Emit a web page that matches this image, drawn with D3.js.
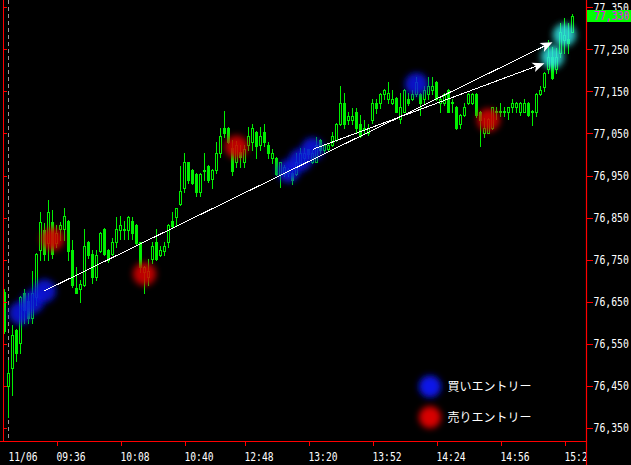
<!DOCTYPE html>
<html><head><meta charset="utf-8">
<script src="https://cdn.jsdelivr.net/npm/d3@7"></script>
<style>html,body{margin:0;padding:0;background:#000;}svg{display:block;}</style>
</head><body>
<script>
// ---- data ----
const opens = [76674,76450,76492,76583,76551,76672,76652,76611,76661,76773,76821,76790,76840,76790,76822,76822,76842,76773,76683,76680,76690,76793,76763,76710,76771,76823,76773,76763,76791,76821,76821,76821,76842,76832,76791,76721,76710,76751,76791,76761,76771,76791,76842,76852,76882,76921,76981,76963,76953,76912,76963,76973,76941,76963,77003,77062,77062,77016,76983,77007,76981,77022,77030,77053,77022,77053,77022,76992,76991,76953,76953,76955,76955,76954,76980,76991,77012,76983,76983,77034,77011,77012,77022,77034,77072,77122,77082,77082,77102,77072,77062,77052,77082,77122,77122,77143,77132,77122,77135,77084,77102,77133,77133,77143,77143,77133,77143,77153,77173,77122,77122,77153,77124,77113,77072,77094,77122,77122,77143,77102,77052,77052,77062,77104,77102,77102,77102,77112,77112,77102,77102,77122,77104,77102,77143,77161,77202,77232,77202,77242,77272,77274,77292];
const highs = [76680,76512,76595,76585,76663,76680,76672,76723,76765,76863,76836,76892,76868,76832,76840,76872,76845,76797,76732,76702,76822,76795,76773,76773,76815,76825,76775,76802,76852,76854,76843,76854,76852,76834,76793,76735,76752,76793,76823,76782,76793,76834,76863,76874,76973,77004,76983,76965,76955,76955,77003,76975,76965,77030,77062,77103,77065,77034,77032,77022,77022,77066,77072,77055,77066,77072,77030,77012,76993,76983,76975,76968,76960,77003,77015,77015,77014,77011,77042,77036,77026,77024,77054,77074,77163,77145,77102,77111,77111,77094,77082,77072,77133,77133,77145,77155,77173,77153,77137,77145,77155,77145,77153,77183,77145,77163,77185,77185,77175,77135,77145,77155,77133,77115,77096,77123,77145,77145,77145,77104,77086,77086,77114,77112,77123,77113,77114,77133,77124,77124,77133,77124,77106,77145,77163,77195,77272,77256,77252,77313,77324,77313,77335];
const lows = [76575,76377,76428,76510,76529,76599,76600,76599,76642,76749,76749,76749,76754,76781,76797,76797,76749,76686,76672,76650,76688,76754,76695,76702,76769,76760,76745,76760,76781,76799,76799,76799,76799,76786,76721,76672,76690,76741,76749,76759,76761,76781,76828,76831,76880,76912,76932,76930,76901,76901,76939,76935,76921,76955,76995,77042,77028,76951,76971,76971,76971,77011,77011,76991,77011,77021,76991,76980,76951,76922,76950,76950,76930,76951,76975,76983,76991,76980,76981,77003,77005,77008,77020,77032,77070,77062,77072,77072,77054,77042,77052,77046,77074,77099,77111,77133,77122,77120,77100,77074,77100,77118,77130,77140,77094,77122,77133,77143,77130,77102,77118,77100,77102,77060,77062,77092,77120,77120,77090,77021,77042,77050,77060,77084,77091,77091,77084,77102,77102,77094,77100,77092,77070,77091,77141,77152,77193,77180,77193,77232,77240,77242,77290];
const closes = [76581,76481,76571,76529,76661,76630,76611,76672,76763,76840,76763,76863,76763,76813,76832,76854,76771,76690,76672,76692,76782,76761,76710,76761,76813,76763,76749,76791,76823,76832,76823,76852,76813,76789,76733,76733,76723,76782,76751,76773,76782,76832,76831,76872,76913,76981,76939,76932,76912,76953,76961,76939,76963,77003,77044,77050,77030,76961,77022,76995,77012,77044,77062,77021,77044,77030,77003,77003,76953,76981,76971,76963,76939,76983,77003,77003,77001,77003,77022,77011,77022,77022,77044,77072,77122,77072,77092,77091,77062,77044,77060,77062,77122,77111,77143,77153,77145,77133,77102,77113,77153,77122,77143,77173,77122,77153,77163,77163,77133,77133,77143,77102,77122,77062,77094,77113,77143,77143,77094,77082,77062,77084,77112,77102,77104,77104,77112,77122,77122,77122,77122,77094,77102,77143,77153,77193,77232,77182,77232,77292,77284,77264,77330];

const timeTickIdx = [1, 13, 29, 45, 60, 76, 92, 108, 124, 140];
const timeTickLabels = ["11/06","09:36","10:08","10:40","12:48","13:20","13:52","14:24","14:56","15:28"];
const dayBreakIdx = [1];
const priceTicks = [76350,76450,76550,76650,76750,76850,76950,77050,77150,77250,77350];
const lastPrice = 77330;

const buyIdx   = [4, 7, 10, 71, 74, 77, 103];
const buyPrice = [76623, 76650, 76676, 76961, 76987, 77013, 77167];
const sellIdx   = [12, 35, 58, 121];
const sellPrice = [76799, 76716, 77018, 77082];
const exitIdx   = [137, 140];
const exitPrice = [77232, 77284];
const tradeFromIdx   = [10, 77];
const tradeFromPrice = [76676, 77012];
const tradeToIdx     = [137, 135];
const tradeToPrice   = [77267, 77217];

const legendLabels = ["買いエントリー", "売りエントリー"];

// ---- drawing ----
const W = 631, H = 465;
const axisX = 587, axisY = 441;
const N = opens.length;
const x = d3.scaleLinear().domain([0, N - 1]).range([4.5, 4.5 + 4 * (N - 1)]);
const y = d3.scaleLinear().domain([76350, 77350]).range([428, 7.2]);
const GREEN = "#00f000";

const svg = d3.select("body").append("svg").attr("width", W).attr("height", H);
const defs = svg.append("defs");
defs.append("filter").attr("id", "glow").attr("x", "-100%").attr("y", "-100%").attr("width", "300%").attr("height", "300%")
  .append("feGaussianBlur").attr("stdDeviation", 3.4);
defs.append("clipPath").attr("id", "plotclip").append("rect").attr("x", 0).attr("y", 0).attr("width", axisX - 1).attr("height", H);

svg.append("rect").attr("width", W).attr("height", H).attr("fill", "#000");

// day separator
svg.selectAll("line.day").data(dayBreakIdx).enter().append("line")
  .attr("x1", d => Math.floor(x(d)) + 0.5).attr("x2", d => Math.floor(x(d)) + 0.5)
  .attr("y1", 0).attr("y2", axisY)
  .attr("stroke", "#9a9a9a").attr("stroke-dasharray", "4,3").attr("stroke-width", 1);

// candles
const cg = svg.append("g").attr("shape-rendering", "crispEdges");
const idx = d3.range(N);
cg.selectAll("line.wick").data(idx).enter().append("line")
  .attr("x1", i => x(i)).attr("x2", i => x(i))
  .attr("y1", i => Math.round(y(highs[i]))).attr("y2", i => Math.round(y(lows[i])) + 1)
  .attr("stroke", GREEN).attr("stroke-width", 1);
cg.selectAll("rect.body").data(idx).enter().append("rect")
  .attr("x", i => closes[i] >= opens[i] ? x(i) - 1 : x(i) - 1.5)
  .attr("width", i => closes[i] >= opens[i] ? 2 : 3)
  .attr("y", i => {
    const t = Math.round(y(Math.max(opens[i], closes[i])));
    return closes[i] >= opens[i] ? t + 0.5 : t;
  })
  .attr("height", i => {
    const t = Math.round(y(Math.max(opens[i], closes[i])));
    const b = Math.round(y(Math.min(opens[i], closes[i])));
    return closes[i] >= opens[i] ? Math.max(b - t, 1) : Math.max(b - t + 1, 1);
  })
  .attr("fill", i => closes[i] >= opens[i] ? "#000" : GREEN)
  .attr("stroke", i => closes[i] >= opens[i] ? GREEN : "none")
  .attr("stroke-width", 1);

// signal blobs
function blobs(ix, px, color, op) {
  svg.append("g").selectAll("circle").data(ix).enter().append("circle")
    .attr("cx", (d, k) => x(d)).attr("cy", (d, k) => y(px[k]))
    .attr("r", 11.5).attr("fill", color).attr("opacity", op)
    .attr("filter", "url(#glow)");
}
blobs(buyIdx, buyPrice, "#0818e8", 0.85);
blobs(sellIdx, sellPrice, "#d80000", 0.88);
blobs(exitIdx, exitPrice, "#30e6e6", 0.85);

// trade lines with arrowheads
const tg = svg.append("g");
tradeFromIdx.forEach((fi, k) => {
  const x1 = x(fi), y1 = y(tradeFromPrice[k]);
  const x2 = x(tradeToIdx[k]), y2 = y(tradeToPrice[k]);
  const ang = Math.atan2(y2 - y1, x2 - x1) * 180 / Math.PI;
  tg.append("line").attr("x1", x1).attr("y1", y1).attr("x2", x2 - 8 * Math.cos(ang * Math.PI / 180)).attr("y2", y2 - 8 * Math.sin(ang * Math.PI / 180))
    .attr("stroke", "#fff").attr("stroke-width", 1).attr("shape-rendering", "crispEdges");
  tg.append("path").attr("d", "M0,0 L-12,-5 L-9,0 L-12,5 Z")
    .attr("transform", `translate(${x2},${y2}) rotate(${ang})`)
    .attr("fill", "#fff");
});

// right price axis
svg.append("line").attr("x1", axisX - 0.5).attr("x2", axisX - 0.5).attr("y1", 0).attr("y2", H)
  .attr("stroke", "#ff0000").attr("stroke-width", 1.2);
const ra = svg.append("g").attr("transform", `translate(${axisX - 0.5},0)`)
  .call(d3.axisRight(y).tickValues(priceTicks).tickSize(6).tickSizeOuter(0).tickPadding(1).tickFormat(d3.format(",")));
ra.select(".domain").remove();
ra.selectAll(".tick line").attr("stroke", "#ff0000").attr("shape-rendering", "crispEdges");
ra.selectAll(".tick text").attr("fill", "#fff").attr("font-family", "DejaVu Sans Mono, monospace").attr("font-size", 12)
  .attr("textLength", d => d3.format(",")(d).length * 5.9).attr("lengthAdjust", "spacingAndGlyphs");

// current price label
svg.append("rect").attr("x", axisX).attr("y", Math.round(y(lastPrice)) - 6).attr("width", W - axisX).attr("height", 12).attr("fill", "#00ff00");
svg.append("text").attr("x", axisX + 7).attr("y", y(lastPrice)).attr("dy", "0.36em")
  .attr("fill", "#ff00ff").attr("font-family", "DejaVu Sans Mono, monospace").attr("font-size", 12)
  .attr("textLength", 35.4).attr("lengthAdjust", "spacingAndGlyphs").text(d3.format(",")(lastPrice));

// left axis
svg.append("line").attr("x1", 3.5).attr("x2", 3.5).attr("y1", 0).attr("y2", axisY)
  .attr("stroke", "#ff0000").attr("stroke-width", 1);
const la = svg.append("g").attr("transform", "translate(3.5,0)")
  .call(d3.axisRight(y).tickValues(priceTicks).tickSize(3).tickSizeOuter(0).tickFormat(""));
la.select(".domain").remove();
la.selectAll(".tick line").attr("stroke", "#ff0000").attr("shape-rendering", "crispEdges");

// bottom time axis
svg.append("line").attr("x1", 0).attr("x2", axisX).attr("y1", axisY + 0.5).attr("y2", axisY + 0.5)
  .attr("stroke", "#ff0000").attr("stroke-width", 1.2);
const ba = svg.append("g").attr("transform", `translate(0,${axisY + 0.5})`).attr("clip-path", "url(#plotclip)")
  .call(d3.axisBottom(x).tickValues(timeTickIdx).tickSize(4).tickSizeOuter(0)
    .tickFormat((d, k) => timeTickLabels[k]));
ba.select(".domain").remove();
ba.selectAll(".tick line").attr("stroke", (d) => dayBreakIdx.includes(d) ? "none" : "#ff0000").attr("shape-rendering", "crispEdges");
ba.selectAll(".tick text").attr("fill", "#fff").attr("font-family", "DejaVu Sans Mono, monospace").attr("font-size", 12)
  .attr("text-anchor", "start").attr("x", -0.5).attr("y", 11).attr("dy", "0.71em")
  .attr("textLength", 29).attr("lengthAdjust", "spacingAndGlyphs");

// legend
const legColors = ["#0818e8", "#d80000"];
const lg = svg.append("g");
legendLabels.forEach((t, k) => {
  lg.append("circle").attr("cx", 430).attr("cy", 386.5 + k * 30.7).attr("r", 11)
    .attr("fill", legColors[k]).attr("filter", "url(#glow)");
  lg.append("text").attr("x", 447.5).attr("y", 391 + k * 30.7).attr("fill", "#fff")
    .attr("font-family", "Noto Sans CJK JP").attr("font-size", 12).text(t);
});
</script>
</body></html>
